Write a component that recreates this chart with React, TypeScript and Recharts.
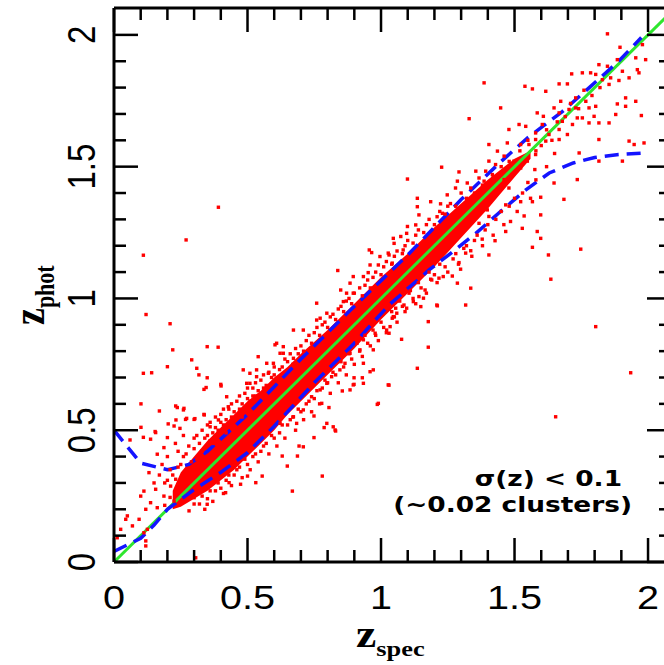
import { ComposedChart, XAxis, YAxis, Scatter, Line, Area } from "recharts";

// spec-z vs phot-z
const xTicks = [0, 0.1, 0.2, 0.3, 0.4, 0.5, 0.6, 0.7, 0.8, 0.9, 1, 1.1, 1.2, 1.3, 1.4, 1.5, 1.6, 1.7, 1.8, 1.9, 2];
const yTicks = [0, 0.1, 0.2, 0.3, 0.4, 0.5, 0.6, 0.7, 0.8, 0.9, 1, 1.1, 1.2, 1.3, 1.4, 1.5, 1.6, 1.7, 1.8, 1.9, 2];

// one-to-one line
const diagX = [0, 2.09];

// dashed envelopes
const upperX = [0, 0.1, 0.2, 0.28, 0.35, 0.5, 0.7, 0.9, 1.1, 1.3, 1.45, 1.55, 1.68, 1.78, 1.89, 1.975];
const upperY = [0.5, 0.375, 0.35, 0.37, 0.42, 0.56, 0.77, 0.97, 1.165, 1.375, 1.52, 1.61, 1.71, 1.8, 1.9, 1.99];
const lowerX = [0, 0.1, 0.15, 0.2, 0.3, 0.4, 0.5, 0.6, 0.75, 0.9, 1.03, 1.18, 1.27, 1.355, 1.44, 1.54, 1.63, 1.72, 1.8, 1.89, 1.99];
const lowerY = [0.04, 0.09, 0.14, 0.2, 0.275, 0.34, 0.415, 0.515, 0.68, 0.83, 0.975, 1.108, 1.178, 1.247, 1.323, 1.41, 1.476, 1.514, 1.535, 1.546, 1.552];

// saturated core of the cloud
const coreX = [0.22, 0.25, 0.3, 0.35, 0.4, 0.45, 0.5, 0.55, 0.6, 0.65, 0.7, 0.8, 0.9, 1.0, 1.1, 1.2, 1.3, 1.4, 1.5, 1.56];
const coreLo = [0.2, 0.21, 0.24, 0.27, 0.31, 0.35, 0.4, 0.45, 0.5, 0.56, 0.61, 0.71, 0.81, 0.92, 1.02, 1.12, 1.23, 1.34, 1.46, 1.53];
const coreHi = [0.27, 0.34, 0.4, 0.46, 0.51, 0.56, 0.61, 0.65, 0.7, 0.74, 0.79, 0.88, 0.98, 1.08, 1.17, 1.27, 1.36, 1.45, 1.53, 1.56];

const outliers: number[][] = [
  [0.391, 1.346], [0.27, 1.222], [0.11, 1.164], [0.12, 0.939], [0.21, 0.904], [0.22, 0.805], [0.349, 0.817],
  [0.39, 0.815], [0.291, 0.767], [0.31, 0.735], [0.2, 0.741], [0.11, 0.716], [0.141, 0.718], [0.318, 0.71],
  [0.349, 0.699], [0.345, 0.662], [0.401, 0.668], [0.101, 0.6], [0.237, 0.586], [0.26, 0.577], [0.17, 0.573],
  [0.338, 0.558], [0.101, 0.511], [0.203, 0.524], [0.232, 0.539], [0.272, 0.545], [0.303, 0.544], [0.06, 0.463],
  [0.11, 0.473], [0.154, 0.495], [0.247, 0.507], [1.685, 1.376], [1.748, 1.187], [1.636, 1.073], [1.627, 1.165],
  [1.804, 0.893], [1.935, 0.718], [1.654, 0.551], [1.03, 0.671], [1.136, 0.735], [1.177, 0.815], [0.99, 0.602],
  [1.027, 0.672], [0.306, 0.016], [1.099, 1.453], [1.227, 1.498], [1.33, 1.682], [1.386, 1.818], [1.448, 1.723],
  [1.848, 2.004], [0.012, 0.092],
];

const lowZ: number[][] = [
  [0.231, 0.592], [0.262, 0.583], [0.137, 0.466], [0.156, 0.491], [0.2, 0.472], [0.162, 0.409], [0.187, 0.434],
  [0.131, 0.339], [0.1, 0.25], [0.112, 0.269], [0.156, 0.276], [0.137, 0.225], [0.162, 0.206], [0.119, 0.2],
  [0.05, 0.175], [0.044, 0.162], [0.069, 0.137], [0.025, 0.124], [0.094, 0.162], [0.125, 0.124], [0.112, 0.111],
  [0.119, 0.08], [0.119, 0.061], [0.281, 0.194], [0.349, 0.219], [0.3, 0.244], [0.418, 0.263], [0.474, 0.295],
  [0.531, 0.301], [0.431, 0.301], [0.5, 0.326], [0.555, 0.326], [0.668, 0.269], [0.649, 0.364], [0.687, 0.402],
  [0.78, 0.326], [0.693, 0.44], [0.749, 0.472], [0.787, 0.51], [0.83, 0.497], [0.749, 0.554], [0.805, 0.586],
  [0.855, 0.649], [0.899, 0.674], [0.986, 0.598], [0.899, 0.699], [0.93, 0.699], [0.337, 0.655], [0.4, 0.674],
  [0.3, 0.541], [0.337, 0.56], [0.225, 0.516], [0.268, 0.541], [0.63, 0.402], [0.231, 0.314], [0.212, 0.288],
  [0.25, 0.276], [0.187, 0.25], [0.225, 0.231], [0.19, 0.3], [0.21, 0.35], [0.18, 0.37], [0.24, 0.42],
  [0.2, 0.4], [0.17, 0.33], [0.23, 0.45], [0.15, 0.3], [0.26, 0.48], [0.19, 0.215], [0.21, 0.245],
];

const midZ: number[][] = [
  [1.046, 1.228], [0.956, 1.184], [0.838, 1.106], [0.759, 0.982], [0.709, 0.88], [0.609, 0.83], [0.622, 0.792],
  [0.572, 0.754], [0.484, 0.729], [0.497, 0.678], [0.534, 0.703], [0.422, 0.627], [0.428, 0.589], [0.391, 0.539],
  [0.36, 0.513], [0.871, 1.02], [0.896, 1.083], [0.934, 0.678], [0.884, 0.653], [0.828, 0.501], [0.797, 0.526],
  [0.709, 0.437], [0.934, 0.754], [0.971, 0.805], [1.021, 0.88], [1.046, 0.931], [0.971, 0.729], [0.759, 0.918],
  [0.849, 1.032], [0.896, 1.02], [0.959, 1.127], [0.99, 1.127], [0.952, 1.098], [0.965, 1.174], [1.096, 1.247],
  [1.083, 1.184], [0.634, 0.817], [0.603, 0.824], [0.54, 0.779], [0.672, 0.773], [0.597, 0.754], [0.534, 0.729],
  [0.509, 0.716], [1.077, 0.845], [0.959, 0.722], [0.896, 0.672], [0.821, 0.513], [0.778, 0.602], [1.209, 0.975],
  [1.233, 1.083], [1.159, 1.001], [1.19, 1.07], [1.121, 0.988], [1.096, 0.963], [1.059, 0.944], [1.034, 0.893],
  [0.978, 0.868], [0.934, 0.843], [0.921, 0.805], [0.884, 0.792], [0.865, 0.754], [0.846, 0.729], [0.815, 0.703],
  [0.797, 0.678], [0.772, 0.653], [0.74, 0.627], [0.709, 0.577], [0.672, 0.551], [0.684, 0.526], [0.622, 0.526],
  [0.672, 0.88], [0.772, 0.925], [0.797, 0.944], [0.859, 0.988], [0.884, 1.058], [0.934, 1.083], [0.996, 1.159],
  [1.027, 1.172], [0.634, 0.792], [0.578, 0.716], [0.509, 0.678],
];

const highZ: number[][] = [
  [1.598, 1.384], [1.598, 1.317], [1.585, 1.254], [1.598, 1.228], [1.567, 1.194], [1.529, 1.266], [1.536, 1.313],
  [1.567, 1.367], [1.485, 1.292], [1.467, 1.254], [1.427, 1.219], [1.404, 1.165], [1.379, 1.225], [1.336, 1.181],
  [1.317, 1.172], [1.292, 1.136], [1.298, 1.111], [1.267, 1.085], [1.286, 1.058], [1.336, 1.039], [1.317, 0.975],
  [1.217, 1.077], [1.186, 1.073], [1.211, 0.972], [1.177, 0.912], [1.03, 0.868], [1.042, 0.925], [1.055, 0.963],
  [1.086, 0.975], [1.149, 0.969], [1.142, 1.007], [1.165, 1.032], [1.105, 1.02], [1.136, 1.38], [1.136, 1.348],
  [1.186, 1.367], [1.142, 1.317], [1.223, 1.359], [1.23, 1.323], [1.248, 1.393], [1.049, 1.209], [1.074, 1.235],
  [1.099, 1.273], [1.13, 1.279], [1.03, 1.165], [1.042, 1.134], [1.429, 1.402], [1.467, 1.355], [1.523, 1.367],
  [1.398, 1.336], [1.367, 1.285], [1.404, 1.311],
];

const topZ: number[][] = [
  [1.895, 1.953], [1.954, 1.913], [1.991, 1.906], [1.979, 1.963], [1.96, 1.868], [1.966, 1.856], [1.929, 1.837],
  [1.904, 1.862], [1.816, 1.887], [1.848, 1.881], [1.885, 1.906], [1.785, 1.856], [1.754, 1.856], [1.714, 1.852],
  [1.804, 1.85], [1.829, 1.83], [1.86, 1.837], [1.891, 1.827], [1.854, 1.812], [1.916, 1.761], [1.954, 1.748],
  [1.916, 1.729], [1.885, 1.738], [1.975, 1.694], [1.879, 1.698], [1.816, 1.666], [1.854, 1.666], [1.779, 1.666],
  [1.798, 1.691], [1.754, 1.685], [1.735, 1.685], [1.704, 1.717], [1.729, 1.723], [1.779, 1.723], [1.804, 1.729],
  [1.767, 1.748], [1.729, 1.761], [1.673, 1.748], [1.648, 1.723], [1.667, 1.704], [1.679, 1.672], [1.717, 1.66],
  [1.698, 1.622], [1.667, 1.641], [1.629, 1.622], [1.667, 1.603], [1.617, 1.597], [1.742, 1.552], [1.816, 1.603],
  [1.929, 1.597], [1.948, 1.584], [1.985, 1.59], [1.904, 1.521], [1.816, 1.521], [1.735, 1.451], [1.648, 1.438],
  [1.579, 1.628], [1.579, 1.603], [1.554, 1.584], [1.579, 1.546], [1.548, 1.521], [1.576, 1.489], [1.523, 1.495],
  [1.523, 1.584], [1.542, 1.653], [1.517, 1.66], [1.539, 1.805], [1.567, 1.795], [1.617, 1.786], [1.667, 1.814],
  [1.698, 1.814], [1.585, 1.704], [1.608, 1.691], [1.604, 1.66], [1.479, 1.641], [1.473, 1.59], [1.404, 1.584],
  [1.436, 1.559], [1.461, 1.54], [1.404, 1.521], [1.429, 1.508], [1.392, 1.483], [1.417, 1.47], [1.355, 1.483],
  [1.367, 1.457], [1.386, 1.445], [1.323, 1.438], [1.336, 1.419], [1.286, 1.445], [1.292, 1.48], [1.279, 1.419],
  [1.479, 1.419], [1.461, 1.451], [1.498, 1.521], [1.6, 1.58], [1.62, 1.64], [1.64, 1.6], [1.66, 1.67],
  [1.69, 1.69], [1.71, 1.74], [1.74, 1.72], [1.76, 1.79], [1.79, 1.77], [1.82, 1.8], [1.58, 1.56],
];

const cloudAbove: number[][] = [
  [0.26, 0.4], [0.28, 0.44], [0.3, 0.47], [0.32, 0.45], [0.33, 0.5], [0.35, 0.48], [0.36, 0.53], [0.38, 0.51],
  [0.4, 0.56], [0.41, 0.52], [0.43, 0.58], [0.44, 0.55], [0.46, 0.61], [0.47, 0.58], [0.49, 0.64], [0.5, 0.62],
  [0.52, 0.66], [0.53, 0.63], [0.55, 0.69], [0.56, 0.66], [0.58, 0.72], [0.6, 0.74], [0.62, 0.73], [0.64, 0.77],
  [0.66, 0.79], [0.68, 0.81], [0.7, 0.82], [0.73, 0.86], [0.76, 0.89], [0.79, 0.91], [0.82, 0.94], [0.85, 0.97],
  [0.88, 1.0], [0.92, 1.04], [0.95, 1.07], [0.98, 1.1], [1.02, 1.14], [1.06, 1.18], [1.1, 1.22], [1.14, 1.26],
  [1.18, 1.3], [1.22, 1.33], [1.26, 1.36], [1.3, 1.4], [0.24, 0.36], [0.22, 0.33], [0.2, 0.31], [0.27, 0.33],
  [0.31, 0.39], [0.37, 0.45], [0.42, 0.49], [0.48, 0.55],
  [0.25, 0.37], [0.27, 0.41], [0.29, 0.38], [0.3, 0.43], [0.31, 0.48], [0.33, 0.42], [0.34, 0.47], [0.35, 0.52],
  [0.36, 0.46], [0.37, 0.49], [0.38, 0.55], [0.39, 0.5], [0.4, 0.53], [0.41, 0.58], [0.42, 0.54], [0.44, 0.6],
  [0.45, 0.57], [0.46, 0.55], [0.47, 0.63], [0.48, 0.6], [0.5, 0.66], [0.51, 0.61], [0.52, 0.63], [0.53, 0.68],
  [0.54, 0.65], [0.56, 0.71], [0.57, 0.67], [0.59, 0.7], [0.6, 0.71], [0.61, 0.69], [0.63, 0.74], [0.65, 0.76],
  [0.67, 0.75], [0.69, 0.79], [0.71, 0.8], [0.72, 0.84], [0.74, 0.83], [0.75, 0.87], [0.77, 0.86], [0.78, 0.9],
  [0.8, 0.89], [0.81, 0.93], [0.83, 0.92], [0.84, 0.96], [0.86, 0.95], [0.87, 0.99], [0.89, 0.98], [0.9, 1.02],
  [0.93, 1.01], [0.94, 1.05], [0.96, 1.04], [0.97, 1.08], [1.0, 1.09], [1.01, 1.12], [1.04, 1.13], [1.05, 1.16],
  [1.08, 1.17], [1.09, 1.2], [1.12, 1.21], [1.13, 1.24], [1.16, 1.25], [1.17, 1.28], [1.2, 1.28], [1.21, 1.31],
  [1.24, 1.32], [1.25, 1.35], [1.28, 1.35], [1.32, 1.38], [1.35, 1.4], [1.38, 1.43], [1.42, 1.46], [1.45, 1.5],
  [1.48, 1.52], [1.52, 1.56], [1.55, 1.6],
];

const cloudBelow: number[][] = [
  [0.32, 0.22], [0.35, 0.24], [0.38, 0.27], [0.4, 0.28], [0.42, 0.31], [0.45, 0.33], [0.47, 0.36], [0.5, 0.37],
  [0.52, 0.4], [0.55, 0.42], [0.57, 0.45], [0.6, 0.47], [0.62, 0.49], [0.65, 0.52], [0.67, 0.55], [0.7, 0.57],
  [0.72, 0.6], [0.75, 0.62], [0.78, 0.66], [0.8, 0.68], [0.83, 0.71], [0.86, 0.74], [0.89, 0.77], [0.92, 0.8],
  [0.95, 0.83], [0.98, 0.86], [1.01, 0.89], [1.05, 0.93], [1.08, 0.97], [1.12, 1.0], [1.15, 1.04], [1.2, 1.09],
  [1.24, 1.12], [1.28, 1.17], [1.32, 1.2], [1.36, 1.24], [1.4, 1.28], [1.45, 1.33], [1.5, 1.38], [1.55, 1.44],
  [0.3, 0.22], [0.33, 0.25], [0.34, 0.2], [0.36, 0.27], [0.37, 0.23], [0.39, 0.3], [0.41, 0.26], [0.43, 0.33],
  [0.44, 0.29], [0.46, 0.35], [0.48, 0.32], [0.49, 0.39], [0.51, 0.35], [0.53, 0.41], [0.54, 0.38], [0.56, 0.44],
  [0.58, 0.41], [0.59, 0.48], [0.61, 0.44], [0.63, 0.52], [0.64, 0.47], [0.66, 0.54], [0.68, 0.5], [0.69, 0.58],
  [0.71, 0.54], [0.73, 0.61], [0.74, 0.57], [0.76, 0.65], [0.77, 0.6], [0.79, 0.69], [0.81, 0.64], [0.82, 0.72],
  [0.84, 0.68], [0.85, 0.76], [0.87, 0.71], [0.88, 0.79], [0.9, 0.75], [0.91, 0.83], [0.93, 0.78], [0.94, 0.86],
  [0.96, 0.82], [0.97, 0.88], [0.99, 0.84], [1.0, 0.91], [1.02, 0.87], [1.04, 0.95], [1.06, 0.91], [1.07, 0.99],
  [1.09, 0.95], [1.11, 1.03], [1.13, 0.98], [1.14, 1.06], [1.17, 1.02], [1.18, 1.1], [1.21, 1.06], [1.22, 1.13],
  [1.25, 1.1], [1.27, 1.15], [1.29, 1.13], [1.31, 1.19], [1.34, 1.16], [1.35, 1.22], [1.38, 1.2], [1.39, 1.26],
  [1.42, 1.24], [1.43, 1.3], [1.46, 1.28], [1.48, 1.35], [1.51, 1.33], [1.53, 1.4], [1.56, 1.38], [1.58, 1.45],
  [1.62, 1.5], [1.65, 1.55],
];

const toPts = (a: number[][]) => a.map(([x, y]) => ({ x, y }));
const points = [outliers, lowZ, midZ, highZ, topZ, cloudAbove, cloudBelow].flatMap(toPts);
const diagData = diagX.map((x) => ({ x, y: x }));
const upperData = upperX.map((x, i) => ({ x, y: upperY[i] }));
const lowerData = lowerX.map((x, i) => ({ x, y: lowerY[i] }));
const coreData = coreX.map((x, i) => ({ x, band: [coreLo[i], coreHi[i]] }));

const INK = "#000";
const RED = "#ff0000";
const GREEN = "#2ee62e";
const BLUE = "#1414ff";
const NUM_FONT = "'Liberation Sans', Arial, Helvetica, sans-serif";
const TITLE_FONT = "'Liberation Serif', 'Times New Roman', serif";

const isMajor = (v: number) => Math.abs(v * 2 - Math.round(v * 2)) < 0.001;
const fmt = (v: number) => String(Math.round(v * 10) / 10);

function BottomTick(props: any) {
  const { x, y, payload } = props;
  const major = isMajor(payload.value);
  return (
    <g>
      <line x1={x} y1={y} x2={x} y2={y - (major ? 24 : 12)} stroke={INK} strokeWidth={2.5} />
      {major && (
        <text transform={`translate(${x},${y + 35}) scale(1.2,1)`} textAnchor="middle" dy="0.36em"
          fontFamily={NUM_FONT} fontSize={33} fill={INK}>
          {fmt(payload.value)}
        </text>
      )}
    </g>
  );
}

function TopTick(props: any) {
  const { x, y, payload } = props;
  const major = isMajor(payload.value);
  return <line x1={x} y1={y} x2={x} y2={y + (major ? 24 : 12)} stroke={INK} strokeWidth={2.5} />;
}

function LeftTick(props: any) {
  const { x, y, payload } = props;
  const major = isMajor(payload.value);
  return (
    <g>
      <line x1={x} y1={y} x2={x + (major ? 24 : 12)} y2={y} stroke={INK} strokeWidth={2.5} />
      {major && (
        <text transform={`translate(${x - 33},${y}) scale(1.2,1) rotate(-90)`} textAnchor="middle" dy="0.36em"
          fontFamily={NUM_FONT} fontSize={33} fill={INK}>
          {fmt(payload.value)}
        </text>
      )}
    </g>
  );
}

function RightTick(props: any) {
  const { x, y, payload } = props;
  const major = isMajor(payload.value);
  return <line x1={x} y1={y} x2={x - (major ? 24 : 12)} y2={y} stroke={INK} strokeWidth={2.5} />;
}

const Dot = (props: any) => (
  <rect x={props.cx - 1.7} y={props.cy - 1.7} width={3.4} height={3.4} fill={RED} />
);

const frame = { stroke: INK, strokeWidth: 3 };

export default function App() {
  return (
    <div style={{ position: "fixed", left: 0, top: 0, width: 664, height: 665, overflow: "hidden", background: "#fff" }}>
      <ComposedChart width={690} height={665} margin={{ top: 7, right: 18, bottom: 102, left: 113 }}>
        <XAxis dataKey="x" type="number" domain={[0, 2.086]} allowDataOverflow ticks={xTicks} interval={0}
          height={1} tickSize={0} tickMargin={0} tickLine={false} axisLine={frame} tick={BottomTick} />
        <XAxis xAxisId="top" orientation="top" dataKey="x" type="number" domain={[0, 2.086]} allowDataOverflow
          ticks={xTicks} interval={0} height={1} tickSize={0} tickMargin={0} tickLine={false} axisLine={frame}
          tick={TopTick} />
        <YAxis type="number" domain={[0, 2.102]} allowDataOverflow ticks={yTicks} interval={0} width={1}
          tickSize={0} tickMargin={0} tickLine={false} axisLine={frame} tick={LeftTick} />
        <YAxis yAxisId="right" orientation="right" type="number" domain={[0, 2.102]} allowDataOverflow
          ticks={yTicks} interval={0} width={1} tickSize={0} tickMargin={0} tickLine={false} axisLine={frame}
          tick={RightTick} />

        <Area data={coreData} dataKey="band" type="linear" stroke="none" fill={RED} fillOpacity={1}
          isAnimationActive={false} />
        <Scatter data={points} dataKey="y" shape={<Dot />} isAnimationActive={false} />
        <Line data={diagData} dataKey="y" type="linear" stroke={GREEN} strokeWidth={3} dot={false}
          isAnimationActive={false} />
        <Line data={upperData} dataKey="y" type="linear" stroke={BLUE} strokeWidth={3.5} strokeDasharray="14 8"
          dot={false} isAnimationActive={false} />
        <Line data={lowerData} dataKey="y" type="linear" stroke={BLUE} strokeWidth={3.5} strokeDasharray="14 8"
          dot={false} isAnimationActive={false} />
      </ComposedChart>

      <svg width={664} height={665} style={{ position: "absolute", left: 0, top: 0, pointerEvents: "none" }}>
        <text transform="translate(356,647) scale(1.2,1)" fontFamily={TITLE_FONT} fontWeight="bold" fill={INK}>
          <tspan fontSize={38}>z</tspan>
          <tspan fontSize={22} dy={9}>spec</tspan>
        </text>
        <text transform="translate(44,325) scale(1.2,1) rotate(-90)" fontFamily={TITLE_FONT} fontWeight="bold" fill={INK}>
          <tspan fontSize={38}>z</tspan>
          <tspan fontSize={22} dy={8}>phot</tspan>
        </text>
        <text transform="translate(622,486) scale(1.2,1)" textAnchor="end" fontFamily="'DejaVu Sans', Verdana, sans-serif"
          fontWeight="bold" fontSize={22} fill={INK}>
          σ(z) &lt; 0.1
        </text>
        <text transform="translate(632,512) scale(1.2,1)" textAnchor="end" fontFamily="'DejaVu Sans', Verdana, sans-serif"
          fontWeight="bold" fontSize={22} fill={INK}>
          (~0.02 clusters)
        </text>
      </svg>
    </div>
  );
}
